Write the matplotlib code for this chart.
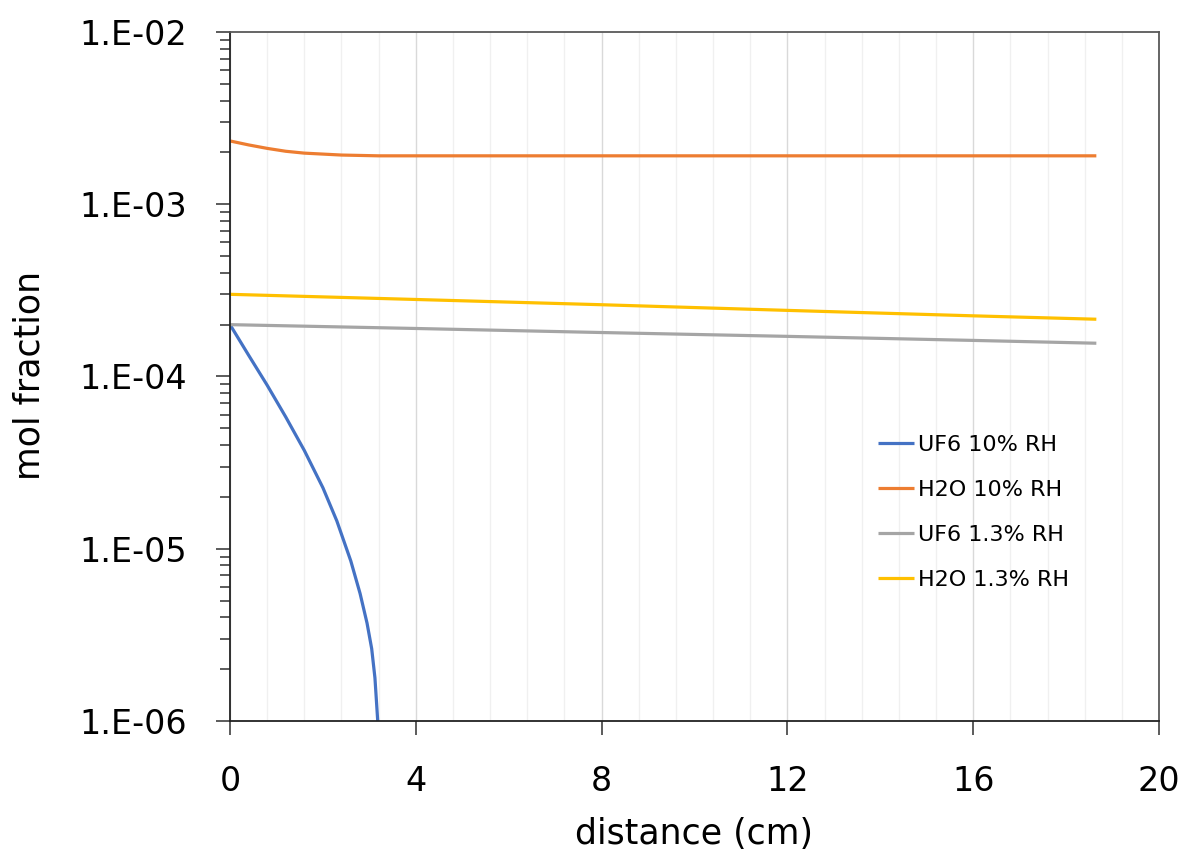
import matplotlib
matplotlib.use("Agg")
import matplotlib.pyplot as plt
from matplotlib.ticker import FixedLocator, LogLocator, FuncFormatter, NullFormatter
import numpy as np

plt.rcParams['font.family'] = ['DejaVu Sans']

# values
uf6_10_x = [0, 0.4, 0.8, 1.2, 1.6, 2.0, 2.3, 2.6, 2.8, 2.95, 3.05, 3.12, 3.18]
uf6_10_y = [2.0e-4, 1.33e-4, 8.9e-5, 5.82e-5, 3.72e-5, 2.26e-5, 1.45e-5, 8.5e-6,
            5.5e-6, 3.7e-6, 2.63e-6, 1.78e-6, 1.0e-6]

h2o_10_x = [0, 0.4, 0.8, 1.2, 1.6, 2.4, 3.2, 8, 12, 16, 18.65]
h2o_10_y = [2.33e-3, 2.21e-3, 2.11e-3, 2.03e-3, 1.98e-3, 1.93e-3, 1.91e-3,
            1.91e-3, 1.91e-3, 1.91e-3, 1.91e-3]

uf6_13_x = [0, 4, 8, 12, 16, 18.65]
uf6_13_y = [2.0e-4, 1.90e-4, 1.80e-4, 1.71e-4, 1.62e-4, 1.56e-4]

h2o_13_x = [0, 4, 8, 12, 16, 18.65]
h2o_13_y = [3.0e-4, 2.80e-4, 2.61e-4, 2.42e-4, 2.25e-4, 2.15e-4]

series = [
    ("UF6 10% RH", uf6_10_x, uf6_10_y, "#4472C4"),
    ("H2O 10% RH", h2o_10_x, h2o_10_y, "#ED7D31"),
    ("UF6 1.3% RH", uf6_13_x, uf6_13_y, "#A5A5A5"),
    ("H2O 1.3% RH", h2o_13_x, h2o_13_y, "#FFC000"),
]

fig = plt.figure(figsize=(11.85, 8.55), dpi=100)
ax = fig.add_axes([0.1941, 0.1567, 0.7840, 0.8059])

for label, xs, ys, color in series:
    ax.plot(xs, ys, color=color, lw=2.3, label=label, solid_capstyle='butt',
            solid_joinstyle='round')

ax.set_yscale('log')
ax.set_xlim(0, 20)
ax.set_ylim(1e-6, 1e-2)

ax.xaxis.set_major_locator(FixedLocator([0, 4, 8, 12, 16, 20]))
ax.xaxis.set_minor_locator(FixedLocator(np.arange(0, 20.01, 0.8)))
ax.grid(True, axis='x', which='minor', color='#F0F0F0', lw=1.0)
ax.grid(True, axis='x', which='major', color='#D9D9D9', lw=1.0)
ax.set_axisbelow(True)

ax.yaxis.set_major_locator(LogLocator(base=10, numticks=10))
ax.yaxis.set_minor_locator(LogLocator(base=10, subs=np.arange(2, 10), numticks=10))
ax.yaxis.set_major_formatter(FuncFormatter(lambda v, p: "1.E-%02d" % round(-np.log10(v))))
ax.yaxis.set_minor_formatter(NullFormatter())

ax.tick_params(axis='both', which='major', labelsize=24, length=10, width=1.2, color='#404040')
ax.tick_params(axis='y', which='major', pad=21)
ax.tick_params(axis='x', which='major', pad=22)
ax.tick_params(axis='y', which='minor', length=7.5, width=1.2, color='#404040')
ax.tick_params(axis='x', which='minor', length=0)

for side in ['left', 'bottom']:
    ax.spines[side].set_color('#222222')
    ax.spines[side].set_linewidth(1.3)
for side in ['top', 'right']:
    ax.spines[side].set_color('#595959')
    ax.spines[side].set_linewidth(1.3)

ax.set_xlabel("distance (cm)", fontsize=25)
ax.set_ylabel("mol fraction", fontsize=25)
ax.xaxis.set_label_coords(0.4995, -0.14)
ax.yaxis.set_label_coords(-0.198, 0.502)

ax.legend(loc='upper left', bbox_to_anchor=(0.6975, 0.415), frameon=False,
          fontsize=16, handlelength=1.6, handletextpad=0.22, labelspacing=1.12,
          borderaxespad=0, borderpad=0)

fig.savefig("out.png", dpi=100)
